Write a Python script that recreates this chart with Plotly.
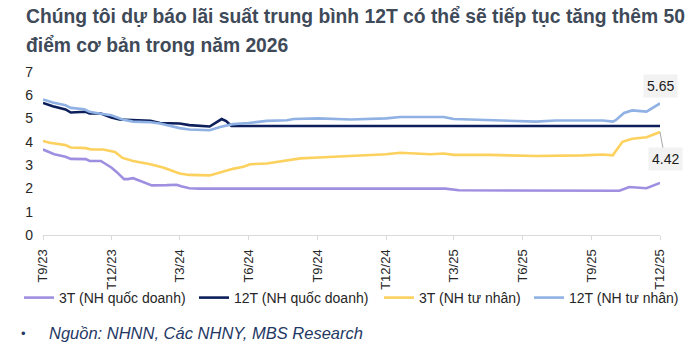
import plotly.graph_objects as go

# ---- data ----
dates_3t_qd = ["2023-09-01","2023-09-16","2023-10-01","2023-10-08","2023-10-28","2023-11-02","2023-11-17",
               "2023-12-01","2023-12-08","2023-12-18","2023-12-23","2023-12-30","2024-01-08","2024-01-24",
               "2024-02-13","2024-02-26","2024-03-03","2024-03-14","2024-03-27","2025-02-18","2025-03-08",
               "2025-10-08","2025-10-21","2025-11-13","2025-12-01"]
vals_3t_qd = [3.67,3.47,3.36,3.27,3.26,3.18,3.18,2.90,2.71,2.40,2.40,2.44,2.33,2.13,2.14,2.16,2.09,2.01,1.99,
              1.99,1.92,1.90,2.06,2.01,2.24]

dates_12t_qd = ["2023-09-01","2023-09-14","2023-10-01","2023-10-08","2023-10-28","2023-11-02","2023-11-17",
                "2023-12-01","2023-12-12","2023-12-30","2024-01-22","2024-02-04","2024-03-01","2024-03-14",
                "2024-04-10","2024-04-26","2024-05-02","2024-05-09","2025-12-01"]
vals_12t_qd = [5.67,5.53,5.39,5.26,5.29,5.22,5.22,5.05,4.96,4.93,4.90,4.81,4.79,4.72,4.66,4.98,4.89,4.68,4.68]

dates_3t_tn = ["2023-09-01","2023-09-10","2023-10-01","2023-10-08","2023-10-28","2023-11-04","2023-11-20",
               "2023-12-01","2023-12-06","2023-12-16","2023-12-30","2024-01-22","2024-02-08","2024-03-01",
               "2024-03-14","2024-04-10","2024-04-24","2024-05-11","2024-05-25","2024-06-03","2024-06-25",
               "2024-07-17","2024-08-09","2024-09-02","2024-10-15","2024-12-01","2024-12-20","2025-01-29",
               "2025-02-16","2025-03-01","2025-04-18","2025-05-27","2025-06-19","2025-08-20","2025-09-16",
               "2025-09-29","2025-10-12","2025-10-25","2025-11-13","2025-12-01"]
vals_3t_tn = [4.04,3.96,3.86,3.76,3.73,3.67,3.67,3.61,3.57,3.31,3.18,3.04,2.90,2.64,2.58,2.56,2.70,2.84,2.93,
              3.04,3.07,3.17,3.29,3.33,3.39,3.47,3.53,3.47,3.50,3.44,3.44,3.40,3.39,3.42,3.46,3.42,4.00,4.13,
              4.20,4.42]

dates_12t_tn = ["2023-09-01","2023-09-14","2023-10-01","2023-10-08","2023-10-26","2023-11-02","2023-11-15",
                "2023-12-01","2023-12-16","2023-12-30","2024-01-22","2024-02-04","2024-03-01","2024-03-14",
                "2024-04-10","2024-04-24","2024-05-11","2024-06-01","2024-06-25","2024-07-22","2024-07-31",
                "2024-09-02","2024-10-15","2024-12-01","2024-12-20","2025-02-16","2025-03-01","2025-04-18",
                "2025-05-27","2025-06-19","2025-07-15","2025-09-16","2025-09-29","2025-10-03","2025-10-14",
                "2025-10-25","2025-11-13","2025-12-01"]
vals_12t_tn = [5.82,5.69,5.57,5.46,5.40,5.29,5.22,5.14,4.96,4.87,4.84,4.79,4.59,4.53,4.50,4.64,4.76,4.81,4.90,
               4.93,4.98,5.01,4.96,5.01,5.07,5.07,4.98,4.93,4.87,4.87,4.92,4.92,4.87,4.93,5.24,5.35,5.30,5.65]

tick_dates = ["2023-09-01","2023-12-01","2024-03-01","2024-06-01","2024-09-01","2024-12-01",
              "2025-03-01","2025-06-01","2025-09-01","2025-12-01"]
tick_labels = ["T9/23","T12/23","T3/24","T6/24","T9/24","T12/24","T3/25","T6/25","T9/25","T12/25"]

series_names = ["3T (NH quốc doanh)", "12T (NH quốc doanh)", "3T (NH tư nhân)", "12T (NH tư nhân)"]
series_colors = ["#9f8fe0", "#0c1f5b", "#fdd15d", "#8fb1e3"]

title_lines = ["Chúng tôi dự báo lãi suất trung bình 12T có thể sẽ tiếp tục tăng thêm 50",
               "điểm cơ bản trong năm 2026"]
source_text = "Nguồn: NHNN, Các NHNY, MBS Research"

W, H = 700, 346
ML, MR, MT, MB = 43, 40, 72, 111
PW, PH = W - ML - MR, H - MT - MB


def px_x(px):
    return (px - ML) / PW


def px_y(py):
    return (H - MB - py) / PH


# ---- figure ----
legend_ids = ["legend", "legend2", "legend3", "legend4"]
legend_x_px = [19, 194, 379, 529]

fig = go.Figure()
for d, v, n, c, lg in zip([dates_3t_qd, dates_12t_qd, dates_3t_tn, dates_12t_tn],
                          [vals_3t_qd, vals_12t_qd, vals_3t_tn, vals_12t_tn],
                          series_names, series_colors, legend_ids):
    fig.add_trace(go.Scatter(x=d, y=v, mode="lines", name=n, legend=lg,
                             line=dict(color=c, width=2.6), hoverinfo="skip"))

fig.add_annotation(x=dates_12t_tn[-1], y=vals_12t_tn[-1], text=f"{vals_12t_tn[-1]:.2f}",
                   showarrow=False, yshift=17, bgcolor="#f2f2f2", borderpad=3,
                   font=dict(size=14, color="#1a1a1a", family="Liberation Sans, Arial, sans-serif"))
fig.add_annotation(x=dates_3t_tn[-1], y=vals_3t_tn[-1], text=f"{vals_3t_tn[-1]:.2f}",
                   showarrow=True, ax=5, ay=27, arrowhead=0, arrowwidth=1, arrowcolor="#a6a6a6",
                   bgcolor="#f2f2f2", borderpad=3,
                   font=dict(size=14, color="#1a1a1a", family="Liberation Sans, Arial, sans-serif"))

# title lines
for line, py in zip(title_lines, [17, 45]):
    fig.add_annotation(xref="paper", yref="paper", x=px_x(24), xanchor="left", y=px_y(py), yanchor="middle",
                       text=f"<b>{line}</b>", showarrow=False,
                       font=dict(size=19.3, color="#3f4a59", family="Liberation Sans, Arial, sans-serif"))

# source
fig.add_annotation(xref="paper", yref="paper", x=px_x(19), xanchor="left", y=px_y(333), yanchor="middle",
                   text="•", showarrow=False, font=dict(size=13, color="#1f3864", family="Liberation Sans, Arial"))
fig.add_annotation(xref="paper", yref="paper", x=px_x(47), xanchor="left", y=px_y(333), yanchor="middle",
                   text=f"<i>{source_text}</i>", showarrow=False,
                   font=dict(size=16.5, color="#1f3864", family="Liberation Sans, Arial"))

legend_style = dict(orientation="h", xanchor="left", y=px_y(298), yanchor="middle",
                    font=dict(size=14, color="#262626"), itemwidth=30, bgcolor="rgba(0,0,0,0)")
layout_legends = {lg: dict(legend_style, x=px_x(xp)) for lg, xp in zip(legend_ids, legend_x_px)}

fig.update_layout(
    width=W, height=H,
    margin=dict(l=ML, r=MR, t=MT, b=MB, autoexpand=False),
    paper_bgcolor="white", plot_bgcolor="white",
    font=dict(family="Liberation Sans, Arial, sans-serif", size=13, color="#262626"),
    showlegend=True,
    xaxis=dict(type="date", range=["2023-09-01", "2025-12-01"], tickvals=tick_dates, ticktext=tick_labels,
               tickangle=-90, ticks="outside", ticklen=4, tickcolor="#d9d9d9", showline=True,
               linecolor="#d9d9d9", linewidth=1.3, showgrid=False, zeroline=False, automargin=False,
               ticklabelstandoff=4, tickfont=dict(size=13, color="#262626")),
    yaxis=dict(range=[0, 7], dtick=1, showgrid=False, zeroline=False, showline=False, automargin=False,
               ticklabelstandoff=9, tickfont=dict(size=14, color="#262626")),
    **layout_legends,
)

fig.write_html("out.html")
